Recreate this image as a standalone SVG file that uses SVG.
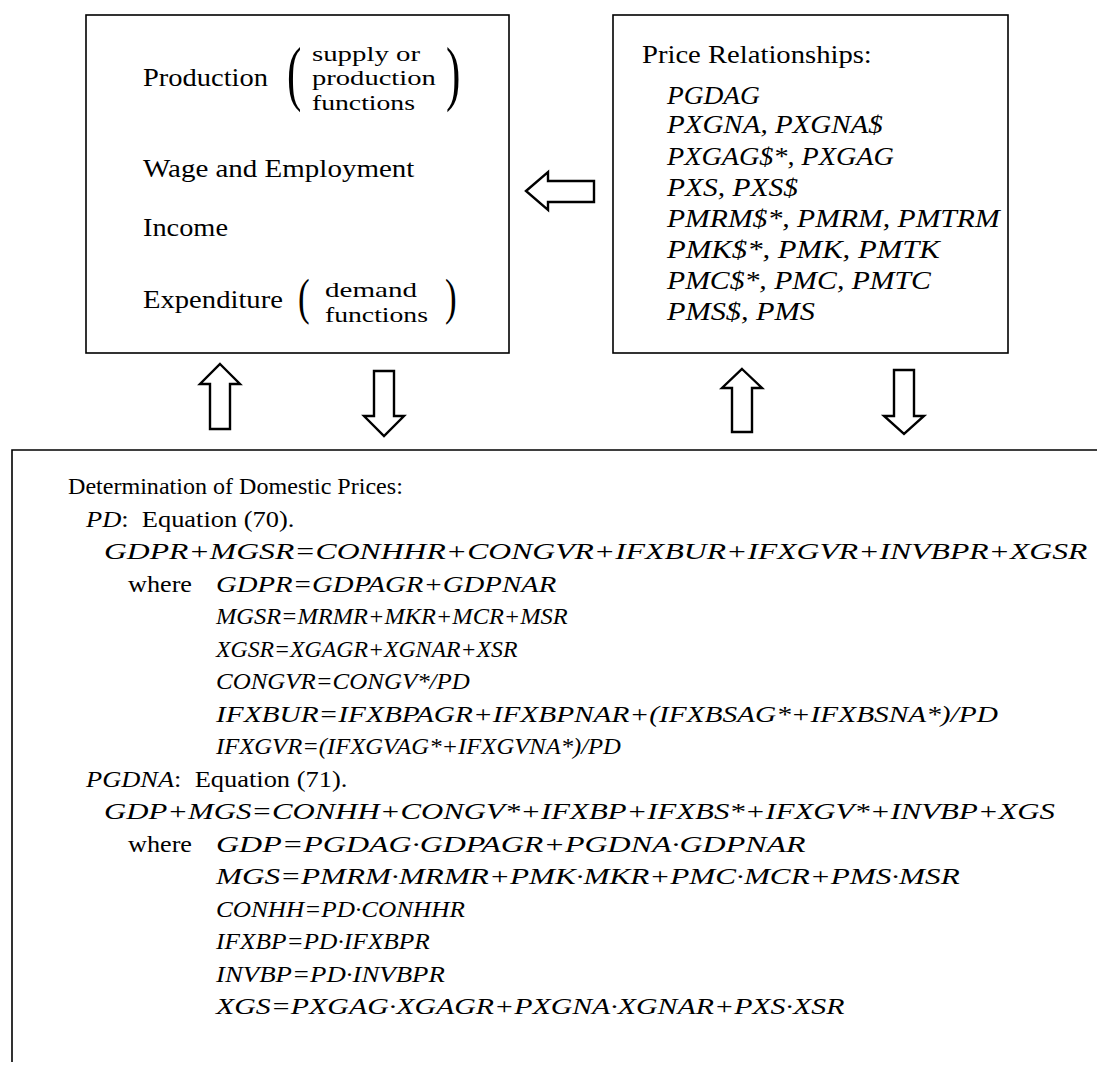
<svg xmlns="http://www.w3.org/2000/svg" width="1097" height="1065" viewBox="0 0 1097 1065">
<style>
.box{fill:none;stroke:#000;stroke-width:1.6}
.frame{fill:none;stroke:#000;stroke-width:1.6}
.arr{fill:#fff;stroke:#000;stroke-width:2.4;stroke-linejoin:miter}
.t{font-family:"Liberation Serif","Times New Roman",serif;font-size:24.5px;fill:#000}
.s{font-size:21.5px}
.b{font-size:23px}
.e{font-size:24px;font-style:italic}
.i{font-style:italic}
.p{font-family:"Liberation Serif","Times New Roman",serif;fill:#000}
</style>
<rect width="1097" height="1065" fill="#fff"/>
<g id="node-realsector">
<rect class="box" x="86" y="15" width="423" height="338"/>
<text class="t" transform="translate(143,86) scale(1.163,1)">Production</text>
<text class="p" font-size="72" transform="translate(287,97) scale(0.6,1)">(</text>
<text class="t s" transform="translate(312,60.5) scale(1.34,1)">supply or</text>
<text class="t s" transform="translate(312,85) scale(1.33,1)">production</text>
<text class="t s" transform="translate(312,109.5) scale(1.287,1)">functions</text>
<text class="p" font-size="72" transform="translate(446,97) scale(0.6,1)">)</text>
<text class="t" transform="translate(143,177) scale(1.184,1)">Wage and Employment</text>
<text class="t" transform="translate(143,236) scale(1.157,1)">Income</text>
<text class="t" transform="translate(143,308) scale(1.169,1)">Expenditure</text>
<text class="p" font-size="50" transform="translate(298,314) scale(0.7,1)">(</text>
<text class="t s" transform="translate(325,297) scale(1.351,1)">demand</text>
<text class="t s" transform="translate(325,322) scale(1.287,1)">functions</text>
<text class="p" font-size="50" transform="translate(445,314) scale(0.7,1)">)</text>
</g>
<g id="node-prices">
<rect class="box" x="613" y="15" width="395" height="338"/>
<text class="t" transform="translate(642,63) scale(1.169,1)">Price Relationships:</text>
<text class="t i" transform="translate(667,104) scale(1.12,1)">PGDAG</text>
<text class="t i" transform="translate(667,133) scale(1.184,1)">PXGNA, PXGNA$</text>
<text class="t i" transform="translate(667,165) scale(1.15,1)">PXGAG$*, PXGAG</text>
<text class="t i" transform="translate(667,196) scale(1.203,1)">PXS, PXS$</text>
<text class="t i" transform="translate(667,227) scale(1.211,1)">PMRM$*, PMRM, PMTRM</text>
<text class="t i" transform="translate(667,258) scale(1.253,1)">PMK$*, PMK, PMTK</text>
<text class="t i" transform="translate(667,289) scale(1.212,1)">PMC$*, PMC, PMTC</text>
<text class="t i" transform="translate(667,320) scale(1.236,1)">PMS$, PMS</text>
</g>
<g id="node-domestic">
<path class="frame" d="M12,1062 V450 H1097"/>
<text class="t b" transform="translate(68,494) scale(1.047,1)">Determination of Domestic Prices:</text>
<text class="t b" transform="translate(86,526.5) scale(1.15,1)"><tspan class="i">PD</tspan>:&#160; Equation (70).</text>
<text class="t e" transform="translate(104,559) scale(1.32,1)">GDPR+MGSR=CONHHR+CONGVR+IFXBUR+IFXGVR+INVBPR+XGSR</text>
<text class="t b" transform="translate(128,591.5) scale(1.139,1)">where</text>
<text class="t e" transform="translate(216,591.5) scale(1.199,1)">GDPR=GDPAGR+GDPNAR</text>
<text class="t e" transform="translate(216,624) scale(1.017,1)">MGSR=MRMR+MKR+MCR+MSR</text>
<text class="t e" transform="translate(216,656.5) scale(0.99,1)">XGSR=XGAGR+XGNAR+XSR</text>
<text class="t e" transform="translate(216,689) scale(1.04,1)">CONGVR=CONGV*/PD</text>
<text class="t e" transform="translate(216,721.5) scale(1.222,1)">IFXBUR=IFXBPAGR+IFXBPNAR+(IFXBSAG*+IFXBSNA*)/PD</text>
<text class="t e" transform="translate(216,754) scale(1.027,1)">IFXGVR=(IFXGVAG*+IFXGVNA*)/PD</text>
<text class="t b" transform="translate(86,786.5) scale(1.15,1)"><tspan class="i">PGDNA</tspan>:&#160; Equation (71).</text>
<text class="t e" transform="translate(104,819) scale(1.283,1)">GDP+MGS=CONHH+CONGV*+IFXBP+IFXBS*+IFXGV*+INVBP+XGS</text>
<text class="t b" transform="translate(128,851.5) scale(1.139,1)">where</text>
<text class="t e" transform="translate(216,851.5) scale(1.333,1)">GDP=PGDAG·GDPAGR+PGDNA·GDPNAR</text>
<text class="t e" transform="translate(216,884) scale(1.299,1)">MGS=PMRM·MRMR+PMK·MKR+PMC·MCR+PMS·MSR</text>
<text class="t e" transform="translate(216,916.5) scale(1.051,1)">CONHH=PD·CONHHR</text>
<text class="t e" transform="translate(216,949) scale(1.058,1)">IFXBP=PD·IFXBPR</text>
<text class="t e" transform="translate(216,981.5) scale(1.118,1)">INVBP=PD·INVBPR</text>
<text class="t e" transform="translate(216,1014) scale(1.245,1)">XGS=PXGAG·XGAGR+PXGNA·XGNAR+PXS·XSR</text>
</g>
<g id="connectors">
<polygon class="arr" points="526,191 548,172 548,181 594,181 594,202 548,202 548,210"/>
<polygon class="arr" points="220,364 240,384 230,384 230,429 210,429 210,384 200,384"/>
<polygon class="arr" points="374,371 394,371 394,416 404,416 384,436 364,416 374,416"/>
<polygon class="arr" points="742,369 762,388 752,388 752,432 732,432 732,388 722,388"/>
<polygon class="arr" points="894,370 914,370 914,416 924,416 904,434 884,416 894,416"/>
</g>
</svg>
